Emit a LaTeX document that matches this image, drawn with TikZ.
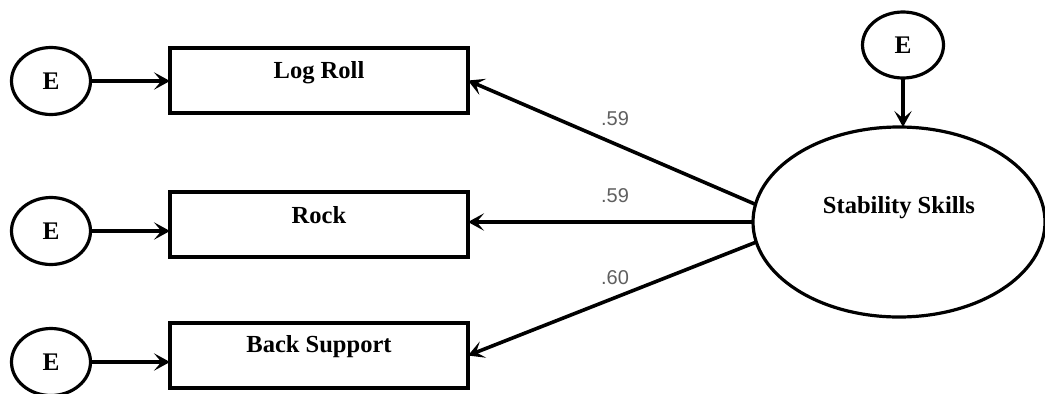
\documentclass[tikz,border=0pt]{standalone}
\usepackage{fontspec}
\setmainfont{Liberation Serif}
\newfontfamily\lblfont{Liberation Sans}
\usetikzlibrary{arrows.meta,shapes.geometric}
\definecolor{lblgray}{RGB}{95,95,95}
\begin{document}
\begin{tikzpicture}[x=0.75pt,y=-0.75pt,
  every node/.style={inner sep=0pt,outer sep=0pt},
  obsbox/.style={draw,line width=2.8pt,rectangle,minimum width=298*0.75pt,minimum height=65*0.75pt},
  errnode/.style={draw,line width=2.4pt,ellipse,minimum width=79*0.75pt,minimum height=67*0.75pt,font=\fontsize{19}{20}\selectfont\bfseries},
  latent/.style={draw,line width=2.4pt,ellipse,minimum width=292*0.75pt,minimum height=190*0.75pt},
  boxtext/.style={font=\fontsize{18.4}{20}\selectfont\bfseries},
  coef/.style={font=\lblfont\fontsize{15}{17}\selectfont,text=lblgray},
  conn/.style={line width=2.7pt,-{Stealth[length=12pt,width=13pt,inset=5.5pt]}}
]
\useasboundingbox (0,0) rectangle (1045,393);
% observed boxes
\node[obsbox,label={[boxtext,yshift=5.6pt]center:Log Roll}] (lr) at (319,80.5) {};
\node[obsbox,label={[boxtext,yshift=7pt]center:Rock}] (rock) at (319,224.5) {};
\node[obsbox,label={[boxtext,yshift=6.5pt]center:Back Support}] (bs) at (319,355.5) {};
% error terms
\node[errnode] (e1) at (51,81) {E};
\node[errnode] (e2) at (51,231) {E};
\node[errnode] (e3) at (51,362) {E};
\node[errnode,minimum width=81*0.75pt,minimum height=66*0.75pt] (et) at (903,45) {E};
% latent
\node[latent,label={[boxtext,yshift=11pt]center:Stability Skills}] (ss) at (899,222) {};
% connectors from errors
\draw[conn] (e1.east) -- (e1.east -| lr.west);
\draw[conn] (e2.east) -- (e2.east -| rock.west);
\draw[conn] (e3.east) -- (e3.east -| bs.west);
\draw[conn] (et.south) -- (et.south |- ss.north);
% loadings
\draw[conn] (ss.173) -- (lr.east);
\draw[conn] (ss.west) -- (ss.west -| rock.east);
\draw[conn] (ss.188) -- (bs.east);
% coefficient labels
\node[coef] (c1) at (615,119) {.59};
\node[coef] (c2) at (615,196) {.59};
\node[coef] (c3) at (615,278) {.60};
\end{tikzpicture}
\end{document}
